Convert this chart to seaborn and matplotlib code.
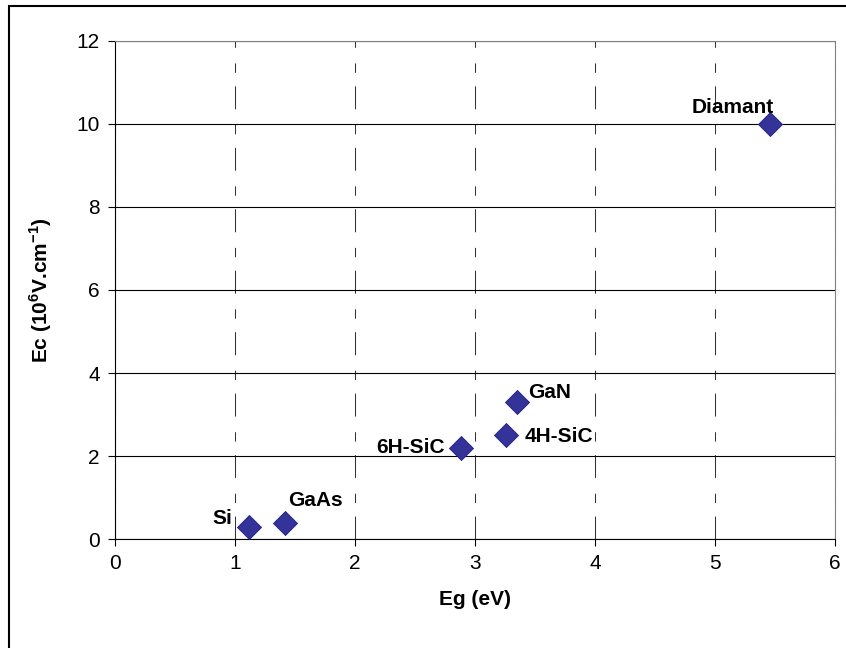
import matplotlib
matplotlib.use('Agg')
import matplotlib.pyplot as plt
import seaborn as sns
import pandas as pd
from matplotlib.patches import Rectangle

# Données : champ critique vs largeur de bande interdite
materiaux = ['Si', 'GaAs', '6H-SiC', '4H-SiC', 'GaN', 'Diamant']
eg = [1.12, 1.42, 2.88, 3.26, 3.35, 5.46]
ec = [0.3, 0.4, 2.2, 2.5, 3.3, 10.0]

# décalage des étiquettes (points) et alignement
decalages = {'Si': (-12, 6, 'right'), 'GaAs': (2, 16, 'left'),
             '6H-SiC': (-11, 0, 'right'), '4H-SiC': (13, -1, 'left'),
             'GaN': (8, 7, 'left'), 'Diamant': (3, 5, 'right')}

df = pd.DataFrame({'materiau': materiaux, 'Eg': eg, 'Ec': ec})

sns.set_style('white')
plt.rcParams['font.family'] = ['Liberation Sans', 'DejaVu Sans']
plt.rcParams['mathtext.fontset'] = 'custom'
plt.rcParams['mathtext.bf'] = 'Liberation Sans:bold'
plt.rcParams['mathtext.rm'] = 'Liberation Sans:bold'
plt.rcParams['text.color'] = 'black'
plt.rcParams['axes.labelcolor'] = 'black'

fig = plt.figure(figsize=(8.46, 6.48), dpi=100)
ax = fig.add_axes([0.136, 0.168, 0.851, 0.769])

# cadre extérieur
fig.patches.append(Rectangle((9 / 846, -0.1), 1.2, 1 - 6 / 648 + 0.1,
                             transform=fig.transFigure, fill=False,
                             edgecolor='black', linewidth=1.5, zorder=0))

sns.scatterplot(data=df, x='Eg', y='Ec', marker='D', s=150, color='#333399',
                edgecolor='#1f1f80', linewidth=0.6, ax=ax, zorder=3)

for m, x, y in zip(materiaux, eg, ec):
    dx, dy, ha = decalages[m]
    ax.annotate(m, (x, y), xytext=(dx, dy), textcoords='offset points',
                ha=ha, va='center' if m != 'Diamant' else 'bottom',
                fontsize=15, fontweight='bold', color='black')

ax.set_xlim(0, 6)
ax.set_ylim(0, 12)
ax.set_xticks(range(0, 7))
ax.set_yticks(range(0, 13, 2))

ax.yaxis.grid(True, color='black', linewidth=0.8)
ax.xaxis.grid(True, color='#333333', linewidth=0.75,
              linestyle=(0, (22, 13, 9, 15)))
ax.set_axisbelow(True)

for s in ['left', 'bottom']:
    ax.spines[s].set_color('black')
    ax.spines[s].set_linewidth(0.8)
for s in ['top', 'right']:
    ax.spines[s].set_color('#808080')
    ax.spines[s].set_linewidth(0.8)

ax.tick_params(direction='out', length=5, width=0.8, colors='black',
               labelsize=15, bottom=True, left=True, pad=6)

ax.set_xlabel('Eg (eV)', fontsize=15, fontweight='bold', labelpad=12)
ax.set_ylabel(r'Ec (10$^{6}$V.cm$^{-1}$)', fontsize=15, fontweight='bold',
              labelpad=16)

fig.savefig('out.png', dpi=100)
